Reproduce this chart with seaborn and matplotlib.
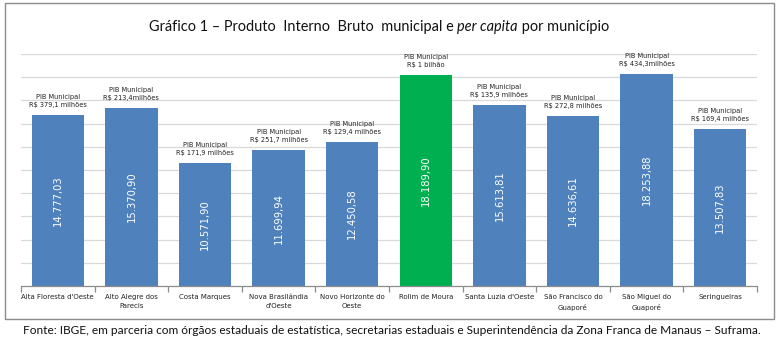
import matplotlib
matplotlib.use("Agg")
import matplotlib.pyplot as plt
from matplotlib.patches import Rectangle
import seaborn as sns
import pandas as pd
import numpy as np

municipios = ["Alta Floresta d'Oeste", "Alto Alegre dos\nParecis", "Costa Marques",
              "Nova Brasilândia\nd'Oeste", "Novo Horizonte do\nOeste", "Rolim de Moura",
              "Santa Luzia d'Oeste", "São Francisco do\nGuaporé", "São Miguel do\nGuaporé",
              "Seringueiras"]
pib_per_capita = [14777.03, 15370.90, 10571.90, 11699.94, 12450.58,
                  18189.90, 15613.81, 14636.61, 18253.88, 13507.83]
rotulos_valor = ["14.777,03", "15.370,90", "10.571,90", "11.699,94", "12.450,58",
                 "18.189,90", "15.613,81", "14.636,61", "18.253,88", "13.507,83"]
pib_municipal = ["R$ 379,1 milhões", "R$ 213,4milhões", "R$ 171,9 milhões",
                 "R$ 251,7 milhões", "R$ 129,4 milhões", "R$ 1 bilhão",
                 "R$ 135,9 milhões", "R$ 272,8 milhões", "R$ 434,3milhões",
                 "R$ 169,4 milhões"]
destaque = "Rolim de Moura"

BLUE = "#4F81BD"
GREEN = "#00B050"

sns.set_theme(style="white")
plt.rcParams['font.family'] = ['DejaVu Sans']

df = pd.DataFrame({"mun": municipios, "val": pib_per_capita})
palette = {m: (GREEN if m == destaque else BLUE) for m in municipios}

W, H = 780, 344
fig = plt.figure(figsize=(W / 100, H / 100), dpi=100)
fig.patch.set_facecolor("white")
ax = fig.add_axes([21 / W, 1 - 286 / H, (757 - 21) / W, (286 - 54) / H])

sns.barplot(data=df, x="mun", y="val", hue="mun", palette=palette, dodge=False,
            legend=False, width=0.71, saturation=1, linewidth=0, ax=ax)

ax.set_ylim(0, 20000)
ax.set_xlim(-0.5, len(municipios) - 0.5)
ax.set_yticks(np.arange(2000, 20001, 2000))
ax.yaxis.grid(True, color="#d9d9d9", lw=0.9)
ax.set_axisbelow(True)
ax.tick_params(axis="y", left=False, labelleft=False)
ax.set_xlabel("")
ax.set_ylabel("")
for s in ["top", "right", "left"]:
    ax.spines[s].set_visible(False)
ax.spines["bottom"].set_color("#8c8c8c")
ax.spines["bottom"].set_linewidth(0.9)

ax.set_xticks(range(len(municipios)))
ax.set_xticklabels(municipios, fontsize=5, color="#222222", linespacing=1.6)
ax.tick_params(axis="x", which="major", length=0, pad=6)
ax.set_xticks(np.arange(-0.5, len(municipios), 1), minor=True)
ax.tick_params(axis="x", which="minor", length=4, color="#8c8c8c", width=0.9, bottom=True)

for i, (v, lab, pib) in enumerate(zip(pib_per_capita, rotulos_valor, pib_municipal)):
    ax.text(i, v / 2, lab, rotation=90, ha="center", va="center", color="white", fontsize=7.2)
    ax.text(i, v + 600, "PIB Municipal\n" + pib, ha="center", va="bottom", fontsize=4.8,
            color="#222222", linespacing=1.4, clip_on=False)

# border around chart
fig.add_artist(Rectangle((5 / W, 1 - 319 / H), (774 - 5) / W, (319 - 3) / H,
                         transform=fig.transFigure, fill=False, edgecolor="#8c8c8c", lw=1))

fig.canvas.draw()
renderer = fig.canvas.get_renderer()

# title with italic part, fitted to reference width
parts = [("Gráfico 1 – Produto  Interno  Bruto  municipal e ", "normal"),
         ("per capita", "italic"),
         (" por município", "normal")]
texts = []
for s, st in parts:
    t = fig.text(0, 1 - 27 / H, s, fontsize=11, style=st, va="center", ha="left",
                 color="#111111", family="Lato")
    texts.append(t)
total = sum(t.get_window_extent(renderer).width for t in texts)
fs = 11 * 458 / total
for t in texts:
    t.set_fontsize(fs)
widths = [t.get_window_extent(renderer).width for t in texts]
x = 379 - sum(widths) / 2
for t, w in zip(texts, widths):
    t.set_x(x / W)
    x += w

foot = fig.text(392 / W, 1 - 331 / H,
                "Fonte: IBGE, em parceria com órgãos estaduais de estatística, secretarias estaduais e Superintendência da Zona Franca de Manaus – Suframa.",
                ha="center", va="center", fontsize=8, color="#111111", family="Lato")
fw = foot.get_window_extent(renderer).width
foot.set_fontsize(8 * 745 / fw)

fig.savefig("out.png", dpi=100)
